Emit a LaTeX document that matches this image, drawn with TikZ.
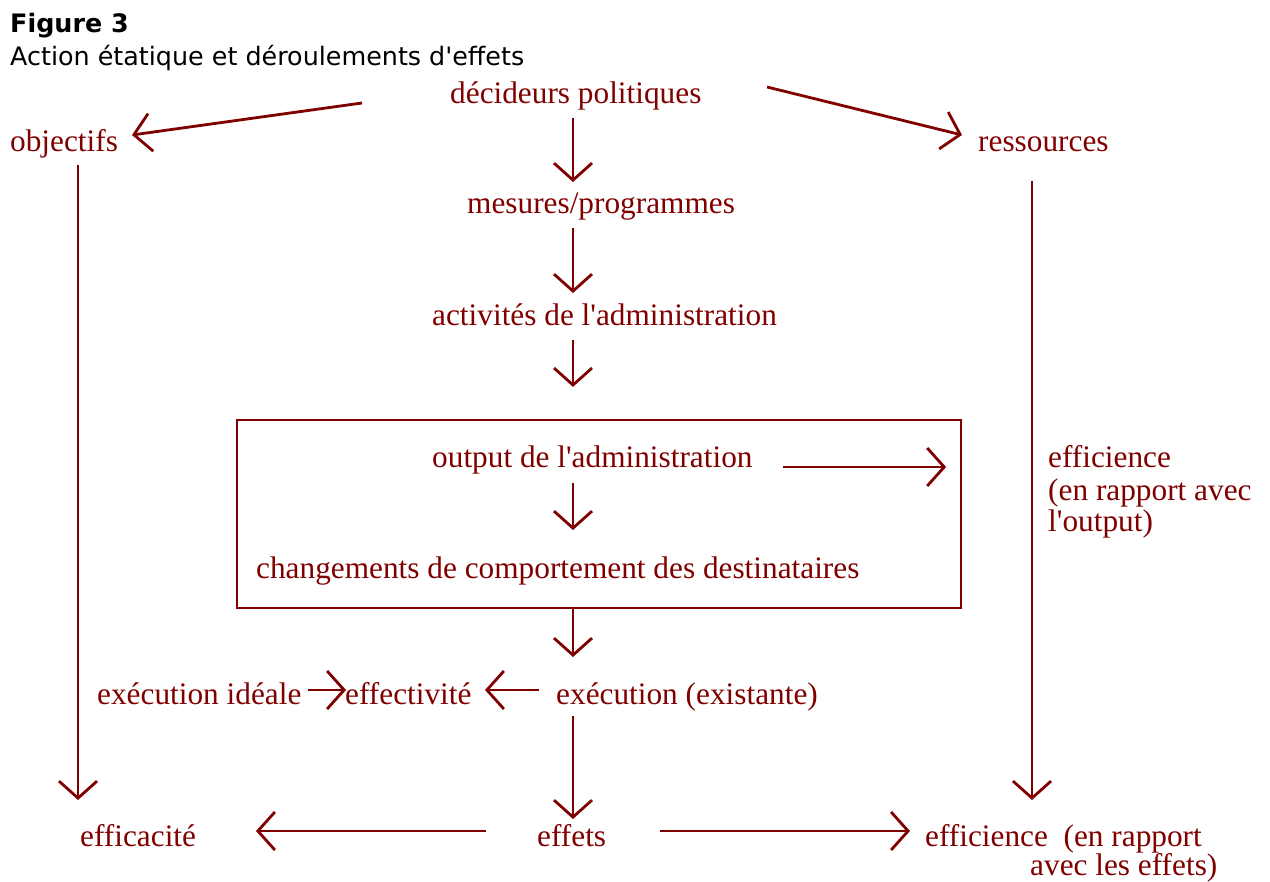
\documentclass[tikz,border=0pt]{standalone}
\usepackage{fontspec}
\usetikzlibrary{arrows.meta,calc}
\newfontfamily\rf{Liberation Serif}
\newfontfamily\tf{DejaVu Sans}
\definecolor{dred}{RGB}{128,0,0}
\tikzset{
  lbl/.style={font=\rf\fontsize{31.3}{32}\selectfont, text=dred, inner sep=0pt, anchor=base west},
  ttl/.style={font=\tf\fontsize{25.4}{30}\selectfont, text=black, inner sep=0pt, anchor=base west},
  arr/.style={draw=dred, line width=2.8pt, -{Straight Barb[length=17pt,width=38pt]}},
  frame/.style={draw=dred, line width=2.2pt, inner sep=0pt}
}
\begin{document}
\begin{tikzpicture}[x=1pt,y=-1pt]
\useasboundingbox (0,0) rectangle (1270,882);
% titles
\node[ttl, font=\tf\bfseries\fontsize{25.4}{30}\selectfont] (fig) at (10,33) {Figure 3};
\node[ttl] (sub) at (10,66) {Action étatique et déroulements d'effets};
% labels
\node[lbl] (dec) at (450,104) {décideurs politiques};
\node[lbl] (obj) at (10,152) {objectifs};
\node[lbl] (res) at (978,152) {ressources};
\node[lbl] (mes) at (467,214) {mesures/programmes};
\node[lbl] (act) at (432,326) {activités de l'administration};
\node[frame, minimum width=724pt, minimum height=188pt] (box) at (599,514) {};
\node[lbl] (out) at (432,468) {output de l'administration};
\node[lbl] (chg) at (256,578) {changements de comportement des destinataires};
\node[lbl, align=left] (eff1) at (1048,532) {efficience\\(en rapport avec\\l'output)};
\node[lbl] (ideal) at (97,704) {exécution idéale};
\node[lbl] (effv) at (345,704) {effectivité};
\node[lbl] (exe) at (556,704) {exécution (existante)};
\node[lbl] (effc) at (80,846) {efficacité};
\node[lbl] (effets) at (537,846) {effets};
\node[lbl, align=left] (eff2) at (925,875) {efficience\ \ (en rapport\\[-3pt]\hspace*{105pt}avec les effets)};
% connectors
\coordinate (ax) at (573,0);
\draw[arr] ($(dec.base -| ax)+(0,14)$) -- ($(mes.base -| ax)+(0,-32)$);
\draw[arr] ($(mes.base -| ax)+(0,14)$) -- ($(act.base -| ax)+(0,-33)$);
\draw[arr] ($(act.base -| ax)+(0,14)$) -- ($(box.north -| ax)+(0,-32)$);
\draw[arr] ($(out.base -| ax)+(0,15)$) -- ($(chg.base -| ax)+(0,-48)$);
\draw[arr] (box.south -| ax) -- ($(exe.base -| ax)+(0,-47)$);
\draw[arr] ($(exe.base -| ax)+(0,12)$) -- ($(effets.base -| ax)+(0,-27)$);
\draw[arr] ($(dec.base west)+(-88,-1)$) -- ($(obj.base west)+(122,-17)$);
\draw[arr] ($(dec.base west)+(317,-17)$) -- ($(res.base west)+(-16,-17)$);
\draw[arr] ($(obj.base west)+(68,13)$) -- ($(effc.base west)+(-2,-46)$);
\draw[arr] ($(res.base west)+(54,29)$) -- ($(eff2.base west)+(107,-75)$);
\draw[arr] ($(out.base west)+(351,-1)$) -- ($(box.east)+(-16,-47)$);
\draw[arr] ($(ideal.base west)+(211,-14)$) -- ($(effv.base west)+(1,-14)$);
\draw[arr] ($(exe.base west)+(-17,-14)$) -- ($(effv.base west)+(140,-14)$);
\draw[arr] ($(effets.base west)+(-51,-15)$) -- ($(effc.base west)+(176,-15)$);
\draw[arr] ($(effets.base west)+(123,-15)$) -- ($(eff2.base west)+(-15,-44)$);
\end{tikzpicture}
\end{document}
